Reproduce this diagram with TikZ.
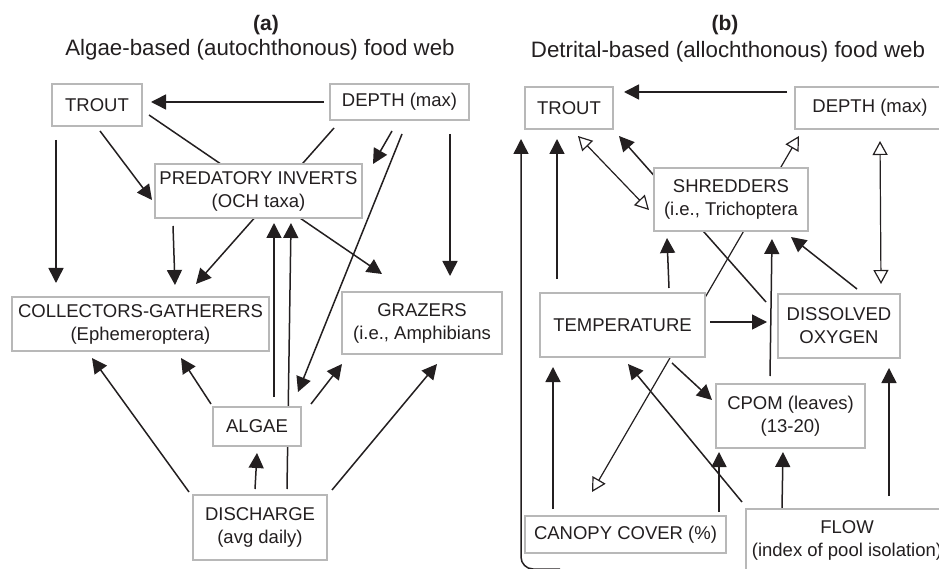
\documentclass[tikz,border=0pt]{standalone}
\usepackage{fontspec}
\setmainfont{Liberation Sans}
\usetikzlibrary{arrows.meta,backgrounds}
\definecolor{boxgray}{HTML}{B8B8B8}
\definecolor{ink}{HTML}{231F20}
\tikzset{
  box/.style={draw=boxgray, line width=2pt, fill=white, text=ink, align=center,
    inner sep=0pt, font=\fontsize{18.5}{23}\selectfont},
  arr/.style={draw=ink, line width=1.5pt, -{Triangle[length=15pt,width=15pt]}},
  darr/.style={draw=ink, line width=1.2pt,
    {Triangle[open,length=14pt,width=15pt]}-{Triangle[open,length=14pt,width=15pt]}},
  ttl/.style={text=ink, font=\fontsize{22.3}{26}\selectfont},
}
\begin{document}
\begin{tikzpicture}[x=1pt,y=-1pt]
      \useasboundingbox (0,0) rectangle (939,569);
      \clip (0,0) rectangle (939,569);

      \node[ttl, font=\fontsize{21}{25}\selectfont\bfseries] (labA) at (266,25) {(a)};
      \node[ttl] (titleA) at (260,50) {Algae-based (autochthonous) food web};
      \node[ttl, font=\fontsize{21}{25}\selectfont\bfseries] (labB) at (725,25) {(b)};
      \node[ttl] (titleB) at (728,52) {Detrital-based (allochthonous) food web};

      \node[box, minimum width=90pt, minimum height=42pt] (troutA) at (97,105) {TROUT};
      \node[box, minimum width=139pt, minimum height=36pt] (depthA) at (399.5,102) {DEPTH (max)};
      \node[box, minimum width=207pt, minimum height=54pt] (predA) at (258.5,191) {PREDATORY INVERTS\\(OCH taxa)};
      \node[box, minimum width=257pt, minimum height=54pt] (collA) at (140.5,324) {COLLECTORS-GATHERERS\\(Ephemeroptera)};
      \node[box, minimum width=160pt, minimum height=62pt] (grazA) at (422,323) {GRAZERS\\(i.e., Amphibians};
      \node[box, minimum width=88pt, minimum height=39pt] (algaeA) at (257,426.5) {ALGAE};
      \node[box, minimum width=134pt, minimum height=65pt] (dischA) at (260,527.5) {DISCHARGE\\(avg daily)};

      \node[box, minimum width=88pt, minimum height=42pt] (troutB) at (569,108) {TROUT};
      \node[box, minimum width=150pt, minimum height=42pt] (depthB) at (870,108) {DEPTH (max)};
      \node[box, minimum width=154pt, minimum height=63pt] (shredB) at (731,199.5) {SHREDDERS\\(i.e., Trichoptera};
      \node[box, minimum width=165pt, minimum height=64pt] (tempB) at (622.5,325) {TEMPERATURE};
      \node[box, minimum width=122pt, minimum height=64pt] (dissB) at (839,326) {DISSOLVED\\OXYGEN};
      \node[box, minimum width=149pt, minimum height=64pt] (cpomB) at (790.5,416) {CPOM (leaves)\\(13-20)};
      \node[box, minimum width=201pt, minimum height=37pt] (canopyB) at (625.5,534.5) {CANOPY COVER (\%)};
      \node[box, minimum width=202pt, minimum height=62pt] (flowB) at (847,540) {FLOW\\(index of pool isolation)};
      \coordinate (flowtail) at (560,569);

      \begin{scope}[on background layer]
        \draw[arr] ([shift={(-5,0)}]depthA.west) -- ([shift={(8,-3)}]troutA.east);
        \draw[arr] ([shift={(5,13)}]troutA.south west) -- ([shift={(45,-13)}]collA.north west);
        \draw[arr] ([shift={(3,4)}]troutA.south) -- ([shift={(-2,9)}]predA.west);
        \draw[arr] ([shift={(6,10)}]troutA.east) -- ([shift={(41,-17)}]grazA.north west);
        \draw[arr] ([shift={(5,7)}]depthA.south west) -- ([shift={(-74,-12)}]collA.north east);
        \draw[arr] ([shift={(-7.5,10)}]depthA.south) -- ([shift={(10,1)}]predA.north east);
        \draw[arr] ([shift={(2.5,13)}]depthA.south) -- ([shift={(-4,-14)}]algaeA.north east);
        \draw[arr] ([shift={(-20,13)}]depthA.south east) -- ([shift={(-53,-15)}]grazA.north east);
        \draw[arr] ([shift={(19,7)}]predA.south west) -- ([shift={(34.5,-11)}]collA.north);
        \draw[arr] ([shift={(17,-9)}]algaeA.north) -- ([shift={(15.5,4)}]predA.south);
        \draw[arr] ([shift={(27,-5)}]dischA.north) -- ([shift={(32.5,4)}]predA.south);
        \draw[arr] ([shift={(-1,-2)}]algaeA.north west) -- ([shift={(-89,6)}]collA.south east);
        \draw[arr] ([shift={(9,-2)}]algaeA.north east) -- ([shift={(1,9)}]grazA.south west);
        \draw[arr] ([shift={(-3,-2)}]dischA.north west) -- ([shift={(-48.5,6)}]collA.south);
        \draw[arr] ([shift={(-5,-5)}]dischA.north) -- ([shift={(0,6)}]algaeA.south);
        \draw[arr] ([shift={(4,-4)}]dischA.north east) -- ([shift={(15,9)}]grazA.south);

        \draw[arr] ([shift={(-7,6)}]depthB.north west) -- ([shift={(10,6)}]troutB.north east);
        \draw[darr] ([shift={(9,6)}]troutB.south) -- ([shift={(-4,10.5)}]shredB.west);
        \draw[arr] ([shift={(-11,9)}]dissB.north west) -- ([shift={(5,6)}]troutB.south east);
        \draw[darr] ([shift={(5,6)}]depthB.south west) -- ([shift={(-33.5,-23)}]canopyB.north);
        \draw[darr] ([shift={(10,11)}]depthB.south) -- ([shift={(-20,-9)}]dissB.north east);
        \draw[arr, rounded corners=12pt] (flowtail) -| ([shift={(-3,9)}]troutB.south west);
        \draw[arr] ([shift={(18,-13)}]tempB.north west) -- ([shift={(33,9)}]troutB.south west);
        \draw[arr] ([shift={(-37,-4)}]tempB.north east) -- ([shift={(14,6)}]shredB.south west);
        \draw[arr] ([shift={(4,-3)}]tempB.east) -- ([shift={(-10,-4)}]dissB.west);
        \draw[arr] ([shift={(55,-7)}]cpomB.north west) -- ([shift={(-37,7)}]shredB.south east);
        \draw[arr] ([shift={(18,-4)}]dissB.north) -- ([shift={(-18,5)}]shredB.south east);
        \draw[arr] ([shift={(49.5,5)}]tempB.south) -- ([shift={(-3,-16)}]cpomB.west);
        \draw[arr] ([shift={(29,-6)}]canopyB.north west) -- ([shift={(14,9)}]tempB.south west);
        \draw[arr] ([shift={(-8,-3)}]canopyB.north east) -- ([shift={(4,3)}]cpomB.south west);
        \draw[arr] ([shift={(-3,-6)}]flowB.north west) -- ([shift={(5.5,6)}]tempB.south);
        \draw[arr] ([shift={(37,0)}]flowB.north west) -- ([shift={(-7.5,3)}]cpomB.south);
        \draw[arr] ([shift={(-60,-12)}]flowB.north east) -- ([shift={(-12,9)}]dissB.south east);
      \end{scope}

    \end{tikzpicture}
\end{document}
